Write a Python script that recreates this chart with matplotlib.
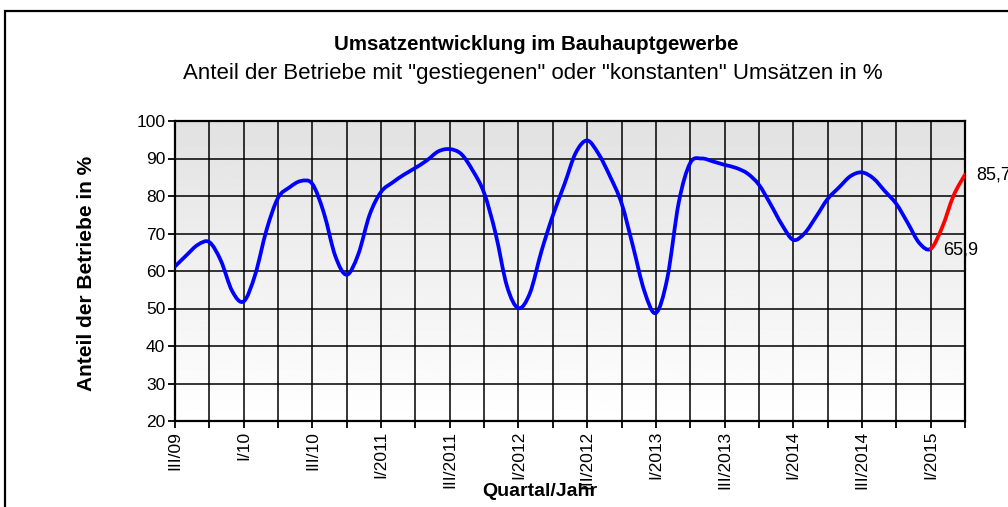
import matplotlib
matplotlib.use("Agg")
import matplotlib.pyplot as plt
import numpy as np
from matplotlib.patches import Rectangle, PathPatch
from matplotlib.path import Path

plt.rcParams['font.family'] = ['Liberation Sans', 'DejaVu Sans']

# monthly values, July 2009 .. April 2015
anteil = [61.2, 64.2, 67.0, 67.7, 62.8, 54.6, 51.9, 59.0, 71.0, 79.5, 82.3, 84.0,
          83.2, 75.5, 64.0, 59.0, 64.4, 75.0, 81.1, 83.6, 85.7, 87.5, 89.5, 91.9,
          92.5, 91.2, 86.8, 80.8, 70.0, 55.9, 50.1, 54.1, 65.2, 74.8, 83.0, 91.5,
          94.8, 91.2, 85.2, 78.1, 66.6, 54.6, 48.8, 58.1, 78.3, 88.8, 90.0, 89.2,
          88.3, 87.5, 86.0, 83.0, 77.9, 72.4, 68.3, 70.1, 74.5, 79.2, 82.3, 85.3,
          86.3, 84.7, 81.3, 77.9, 72.8, 67.5, 65.9, 71.6, 80.1, 85.7]
start_red = 66  # from I/2015 on the line is red
quartal_labels = ["III/09", "I/10", "III/10", "I/2011", "III/2011", "I/2012",
                  "III/2012", "I/2013", "III/2013", "I/2014", "III/2014", "I/2015"]

x = np.arange(len(anteil), dtype=float)
y = np.array(anteil)


def smooth_path(i0, i1):
    # Excel-style smoothed line: bezier through the points (catmull-rom)
    verts = [(x[i0], y[i0])]
    codes = [Path.MOVETO]
    n = len(x)
    for i in range(i0, i1):
        p0 = max(i - 1, 0)
        p3 = min(i + 2, n - 1)
        c1 = (x[i] + (x[i+1] - x[p0]) / 6, y[i] + (y[i+1] - y[p0]) / 6)
        c2 = (x[i+1] - (x[p3] - x[i]) / 6, y[i+1] - (y[p3] - y[i]) / 6)
        verts += [c1, c2, (x[i+1], y[i+1])]
        codes += [Path.CURVE4] * 3
    return Path(verts, codes)


fig = plt.figure(figsize=(10.08, 5.07), dpi=100)
ax = fig.add_axes([175/1008, 1-421/507, 790/1008, 300/507])

# grey gradient background (dark at top, white at bottom)
grad = np.linspace(1.0, 0.885, 256).reshape(-1, 1)
ax.imshow(grad, cmap='gray', vmin=0, vmax=1, aspect='auto', origin='lower',
          extent=[0, 1, 0, 1], transform=ax.transAxes, zorder=0)

ax.add_patch(PathPatch(smooth_path(0, start_red), fill=False, edgecolor='#0000ff',
                       lw=2.7, joinstyle='round', capstyle='round', zorder=3))
ax.add_patch(PathPatch(smooth_path(start_red, len(x) - 1), fill=False,
                       edgecolor='#ff0000', lw=2.7, joinstyle='round',
                       capstyle='round', zorder=3))

ax.annotate("65,9", (x[start_red], y[start_red]), xytext=(12, -1),
            textcoords='offset pixels', va='center', ha='left', fontsize=13)
ax.annotate("85,7", (x[-1], y[-1]), xytext=(11, 0),
            textcoords='offset pixels', va='center', ha='left', fontsize=13,
            annotation_clip=False)

ax.set_xlim(0, len(anteil)-1)
ax.set_ylim(20, 100)
ax.set_yticks(range(20, 101, 10))
ax.set_xticks(range(0, len(anteil), 3), minor=True)
ax.set_xticks(range(0, 67, 6))
ax.set_xticklabels(quartal_labels, rotation=90, va='top', ha='center')
ax.tick_params(axis='both', which='both', direction='out', length=5, width=1.3,
               color='black', labelsize=12.5, pad=2)
ax.grid(True, which='both', color='black', lw=1.1)
ax.set_axisbelow(False)
for s in ax.spines.values():
    s.set_linewidth(1.6)

fig.text(536/1008, 1-45/507, "Umsatzentwicklung im Bauhauptgewerbe",
         ha='center', va='center', fontsize=14.8, fontweight='bold')
fig.text(533/1008, 1-74/507,
         'Anteil der Betriebe mit "gestiegenen" oder "konstanten" Umsätzen in %',
         ha='center', va='center', fontsize=16)
fig.text(87/1008, 1-273/507, "Anteil der Betriebe in %", rotation=90,
         ha='center', va='center', fontsize=15, fontweight='bold')
fig.text(540/1008, 1-492/507, "Quartal/Jahr", ha='center', va='center',
         fontsize=14, fontweight='bold')

# outer frame (cut off at right/bottom)
fig.patches.append(Rectangle((5/1008, -0.1), 1.1, 1-11/507+0.1,
                             transform=fig.transFigure, fill=False,
                             edgecolor='black', lw=1.6))

fig.savefig("out.png", dpi=100)
